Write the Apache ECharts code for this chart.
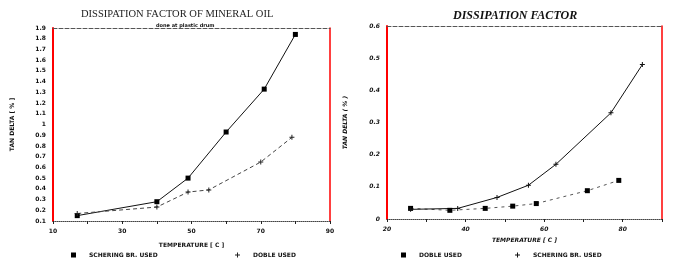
<!DOCTYPE html>
<html>
<head>
<meta charset="utf-8">
<script src="https://cdn.jsdelivr.net/npm/echarts@6/dist/echarts.min.js"></script>
<style>
  html, body { margin: 0; background: #fff; }
  #container { width: 677px; height: 258px; }
</style>
</head>
<body>
<div id="container"></div>
<script>
// left panel: mineral oil, tan delta vs temperature
var leftSchering = [[17, 0.15], [40, 0.28], [49, 0.5], [60, 0.93], [71, 1.33], [80, 1.84]]
var leftDoble = [[17, 0.17], [40, 0.23], [49, 0.37], [55, 0.39], [70, 0.65], [79, 0.88]]
var leftXLabels = [10, 30, 50, 70, 90]

// right panel
var rightDoble = [[26, 0.033], [36, 0.027], [45, 0.033], [52, 0.04], [58, 0.048], [71, 0.088], [79, 0.12]]
var rightSchering = [[26, 0.03], [38, 0.033], [48, 0.067], [56, 0.105], [63, 0.17], [77, 0.33], [85, 0.48]]
var rightXLabels = [20, 40, 60, 80]

var plus = 'path://M4,0H6V4H10V6H6V10H4V6H0V4H4Z'
var square = 'path://M0,0H10V10H0Z'

var dom = document.getElementById('container')
var myChart = echarts.init(dom)

function font(italic) {
  return { fontFamily: 'DejaVu Sans', fontWeight: 'bold', fontStyle: italic ? 'italic' : 'normal', fontSize: 6, color: '#111' }
}

function bottomAxis(grid, min, max, labels, gap) {
  var lbl = font(grid === 1)
  lbl.margin = 7
  lbl.formatter = function (v) { return labels.indexOf(v) >= 0 ? String(v) : '' }
  return {
    type: 'value', gridIndex: grid, position: 'bottom', min: min, max: max, interval: 10,
    name: 'TEMPERATURE [ C ]', nameLocation: 'middle', nameGap: gap, nameTextStyle: font(grid === 1),
    splitLine: { show: false },
    axisLine: { show: true, onZero: false, lineStyle: { color: '#444', type: 'dotted', width: 1 } },
    axisTick: { show: true, length: 3, lineStyle: { color: '#222' } },
    axisLabel: lbl
  }
}

function topAxis(grid, min, max) {
  return {
    type: 'value', gridIndex: grid, position: 'top', min: min, max: max,
    splitLine: { show: false }, axisTick: { show: false }, axisLabel: { show: false },
    axisLine: { show: true, onZero: false, lineStyle: { color: '#555', type: 'dashed', width: 1 } }
  }
}

function leftAxis(grid, min, max, interval, gap) {
  var lbl = font(grid === 1)
  lbl.margin = 7
  return {
    type: 'value', gridIndex: grid, position: 'left', min: min, max: max, interval: interval,
    name: grid === 0 ? 'TAN DELTA [ % ]' : 'TAN DELTA ( % )',
    nameLocation: 'middle', nameGap: gap, nameTextStyle: font(grid === 1),
    splitLine: { show: false }, axisTick: { show: false },
    axisLine: { show: true, onZero: false, lineStyle: { color: 'red', width: 2 } },
    axisLabel: lbl
  }
}

function rightAxis(grid, min, max) {
  return {
    type: 'value', gridIndex: grid, position: 'right', min: min, max: max,
    splitLine: { show: false }, axisTick: { show: false }, axisLabel: { show: false },
    axisLine: { show: true, onZero: false, lineStyle: { color: 'red', width: 1.5 } }
  }
}

function legendItem(name, icon, left) {
  return {
    left: left, top: 247, icon: icon, itemWidth: 5, itemHeight: 5, itemGap: 0,
    data: [name], selectedMode: false,
    textStyle: { fontFamily: 'DejaVu Sans', fontWeight: 'bold', fontSize: 6, color: '#111', padding: [0, 0, 0, 8] }
  }
}

option = {
  animation: false,
  title: [{
    text: 'DISSIPATION FACTOR OF MINERAL OIL',
    left: 76, top: 4,
    textStyle: { fontFamily: 'Liberation Serif', fontWeight: 'normal', fontSize: 10.5, color: '#222' }
  }, {
    text: 'done at plastic drum',
    left: 151, top: 18,
    textStyle: { fontFamily: 'DejaVu Sans', fontWeight: 'bold', fontSize: 5, color: '#111' }
  }, {
    text: 'DISSIPATION FACTOR',
    left: 448, top: 5,
    textStyle: { fontFamily: 'Liberation Serif', fontWeight: 'bold', fontStyle: 'italic', fontSize: 12, color: '#111' }
  }],
  legend: [
    legendItem('SCHERING BR. USED', square, 66),
    legendItem('DOBLE USED', plus, 230),
    legendItem('DOBLE USED ', square, 396),
    legendItem('SCHERING BR. USED ', plus, 510)
  ],
  grid: [
    { left: 53, top: 28, width: 277, height: 193 },
    { left: 387, top: 26, width: 275, height: 193 }
  ],
  xAxis: [
    bottomAxis(0, 10, 90, leftXLabels, 21),
    topAxis(0, 10, 90),
    bottomAxis(1, 20, 90, rightXLabels, 18),
    topAxis(1, 20, 90)
  ],
  yAxis: [
    leftAxis(0, 0.1, 1.9, 0.1, 38),
    rightAxis(0, 0.1, 1.9),
    leftAxis(1, 0, 0.6, 0.1, 39),
    rightAxis(1, 0, 0.6)
  ],
  series: [{
    name: 'SCHERING BR. USED', type: 'line', xAxisIndex: 0, yAxisIndex: 0,
    data: leftSchering, symbol: 'rect', symbolSize: 5,
    itemStyle: { color: '#000' }, lineStyle: { color: '#111', width: 1 }
  }, {
    name: 'DOBLE USED', type: 'line', xAxisIndex: 0, yAxisIndex: 0,
    data: leftDoble, symbol: plus, symbolSize: 5,
    itemStyle: { color: '#222' }, lineStyle: { color: '#444', width: 1, type: [4, 3] }
  }, {
    name: 'DOBLE USED ', type: 'line', xAxisIndex: 2, yAxisIndex: 2,
    data: rightDoble, symbol: 'rect', symbolSize: 5,
    itemStyle: { color: '#000' }, lineStyle: { color: '#555', width: 1, type: [3, 4] }
  }, {
    name: 'SCHERING BR. USED ', type: 'line', xAxisIndex: 2, yAxisIndex: 2,
    data: rightSchering, symbol: plus, symbolSize: 5,
    itemStyle: { color: '#111' }, lineStyle: { color: '#111', width: 1 }
  }]
}

myChart.setOption(option, true)
</script>
</body>
</html>
